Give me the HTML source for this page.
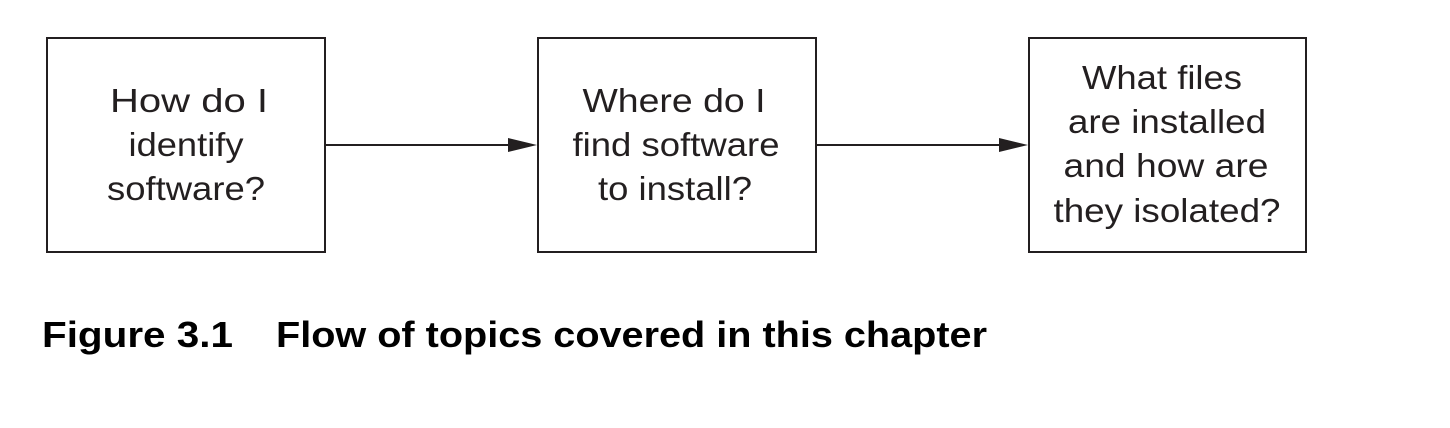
<!DOCTYPE html>
<html><head><style>html,body{margin:0;padding:0;background:#fff;}svg{display:block}</style></head>
<body>
<svg width="1450" height="428" viewBox="0 0 1450 428" xmlns="http://www.w3.org/2000/svg">
<rect x="0" y="0" width="1450" height="428" fill="#fff"/>
<g fill="none" stroke="#231f20" stroke-width="2">
<rect x="47" y="38" width="278" height="214"/>
<rect x="538" y="38" width="278" height="214"/>
<rect x="1029" y="38" width="277" height="214"/>
<line x1="325" y1="145" x2="512" y2="145"/>
<line x1="816" y1="145" x2="1003" y2="145"/>
</g>
<g fill="#231f20">
<polygon points="508,138 537,145 508,152"/>
<polygon points="999,138 1028,145 999,152"/>
</g>
<g font-family="Liberation Sans, Arial, sans-serif" font-size="33" fill="#231f20" text-anchor="middle" lengthAdjust="spacingAndGlyphs">
<text x="189" y="112" textLength="158" lengthAdjust="spacingAndGlyphs">How do I</text>
<text x="186" y="156" textLength="115" lengthAdjust="spacingAndGlyphs">identify</text>
<text x="186" y="200" textLength="158" lengthAdjust="spacingAndGlyphs">software?</text>
<text x="674" y="112" textLength="183" lengthAdjust="spacingAndGlyphs">Where do I</text>
<text x="676" y="156" textLength="207" lengthAdjust="spacingAndGlyphs">find software</text>
<text x="675" y="200" textLength="154" lengthAdjust="spacingAndGlyphs">to install?</text>
<text x="1162" y="89" textLength="160" lengthAdjust="spacingAndGlyphs">What files</text>
<text x="1167" y="133" textLength="198" lengthAdjust="spacingAndGlyphs">are installed</text>
<text x="1166" y="177" textLength="205" lengthAdjust="spacingAndGlyphs">and how are</text>
<text x="1167" y="222" textLength="227" lengthAdjust="spacingAndGlyphs">they isolated?</text>
</g>
<g font-family="Liberation Sans, Arial, sans-serif" font-size="36" font-weight="bold" fill="#000">
<text x="42" y="347" textLength="191" lengthAdjust="spacingAndGlyphs">Figure 3.1</text>
<text x="276" y="347" textLength="711" lengthAdjust="spacingAndGlyphs">Flow of topics covered in this chapter</text>
</g>
</svg>
</body></html>
